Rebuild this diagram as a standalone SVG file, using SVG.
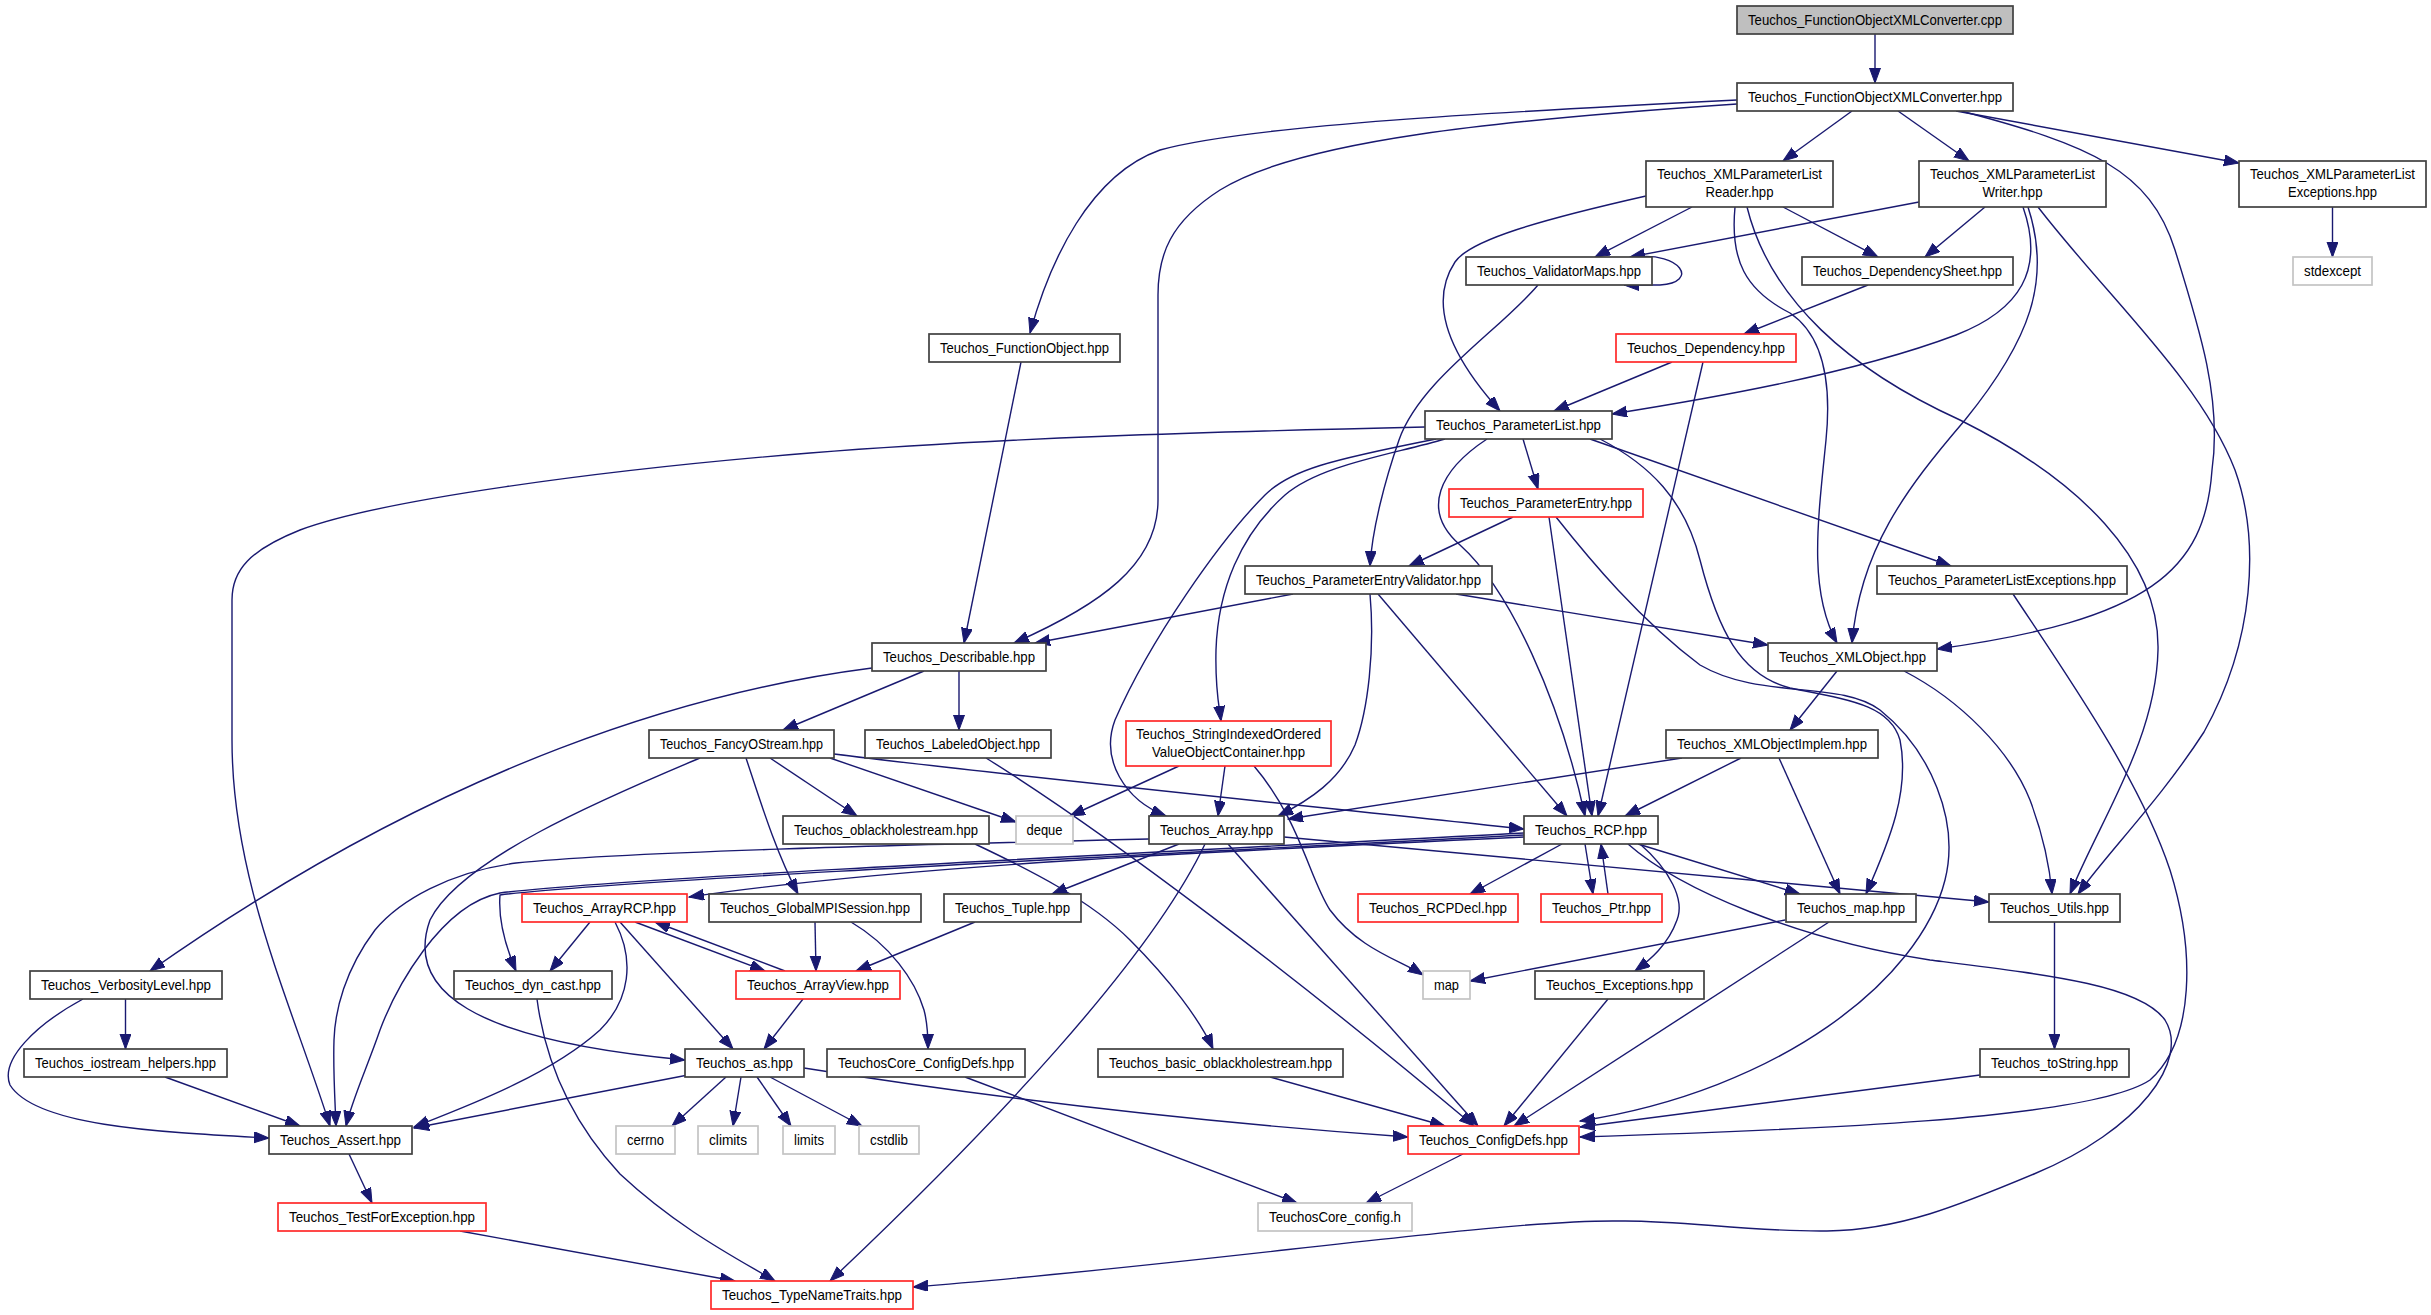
<svg xmlns="http://www.w3.org/2000/svg" width="2431" height="1315" viewBox="0 0 2431 1315">
<style>
.node rect{fill:#fff;stroke:#404040;stroke-width:1.7}
.node.red rect{stroke:#ff2a2a}
.node.gry rect{stroke:#c4c4c4}
.node.src rect{fill:#bfbfbf}
text{font-family:"Liberation Sans",Arial,sans-serif;font-size:14.5px;fill:#000;text-anchor:middle}
#edges path{fill:none;stroke:#191970;stroke-width:1.4;marker-end:url(#arr)}
</style>
<defs>
<marker id="arr" markerUnits="userSpaceOnUse" markerWidth="16" markerHeight="12" refX="15" refY="5.5" orient="auto">
<path d="M0,0 L15,5.5 L0,11 z" fill="#191970" stroke="#191970" stroke-width="1"/>
</marker>
</defs>
<rect x="0" y="0" width="2431" height="1315" fill="#fff"/>
<g id="edges">
<path d="M1875,34 L1875,83"/>
<path d="M1852,111 L1783,161"/>
<path d="M1898,111 L1969,161"/>
<path d="M1956,111 L2239,163"/>
<path d="M1961,111 C2090,145 2150,170 2175,250 C2200,330 2222,400 2212,470 C2205,570 2150,620 1937,649"/>
<path d="M1737,104 C1500,120 1300,140 1220,190 C1170,222 1158,255 1158,295 L1158,500 C1158,565 1100,605 1014,643"/>
<path d="M1737,100 C1500,112 1250,125 1160,150 C1090,175 1050,260 1030,333"/>
<path d="M1692,207 L1595,257"/>
<path d="M1783,207 L1878,257"/>
<path d="M1646,196 C1540,220 1470,240 1455,262 C1430,300 1445,350 1500,411"/>
<path d="M1735,207 C1730,260 1745,290 1790,313 C1830,340 1830,400 1826,440 C1818,520 1808,590 1837,643"/>
<path d="M1747,207 C1770,300 1850,370 1960,420 C2080,480 2160,560 2158,650 C2156,740 2100,820 2070,894"/>
<path d="M1919,202 L1630,257"/>
<path d="M1985,207 L1925,257"/>
<path d="M2023,207 C2045,270 2020,310 1956,335 C1850,375 1700,400 1612,414"/>
<path d="M2028,207 C2052,280 2030,340 1965,420 C1905,490 1860,550 1852,643"/>
<path d="M2038,207 C2110,300 2200,380 2235,470 C2260,540 2255,640 2204,732 C2160,800 2110,850 2078,894"/>
<path d="M2332.5,207 L2332.5,257"/>
<path d="M1636,257 C1680,252 1700,282 1660,285 L1624,285"/>
<path d="M1538,285 C1500,330 1420,380 1399,440 C1385,480 1372,530 1370,566"/>
<path d="M1868,285 L1744,334"/>
<path d="M1672,362 L1554,411"/>
<path d="M1703,362 L1598,816"/>
<path d="M1021,362 L964,643"/>
<path d="M1425,427 C1200,432 1000,438 810,453 C600,470 380,500 300,530 C250,550 232,570 232,600 L232,740 C232,880 290,1000 330,1126"/>
<path d="M1523,439 L1538,489"/>
<path d="M1487,439 C1440,470 1420,510 1460,545 C1510,590 1560,700 1585,816"/>
<path d="M1436,439 C1330,460 1290,470 1265,495 C1220,540 1150,640 1115,720 C1100,760 1125,800 1166,816"/>
<path d="M1445,439 C1390,455 1320,465 1285,495 C1240,535 1218,590 1216,650 C1215,690 1219,705 1221,721"/>
<path d="M1590,439 L1951,566"/>
<path d="M1600,439 C1650,465 1685,500 1700,560 C1718,630 1740,675 1790,688 C1850,700 1890,705 1900,740 C1910,790 1890,840 1866,894"/>
<path d="M1513,517 L1409,566"/>
<path d="M1549,517 L1592,816"/>
<path d="M1556,517 C1590,560 1640,620 1700,665 C1760,700 1840,680 1880,710 C1930,750 1960,820 1945,880 C1920,980 1780,1090 1580,1121"/>
<path d="M2013,594 C2070,680 2140,780 2170,870 C2195,950 2195,1040 2150,1080 C2090,1120 1800,1130 1580,1137"/>
<path d="M1293,594 L1035,643"/>
<path d="M1456,594 L1768,645"/>
<path d="M1370,594 C1375,650 1368,710 1355,745 C1340,780 1310,800 1278,816"/>
<path d="M1378,594 L1567,816"/>
<path d="M872,668 C700,690 450,760 150,971"/>
<path d="M924,671 L783,730"/>
<path d="M959,671 L959,730"/>
<path d="M700,758 C600,800 460,860 430,920 C405,990 470,1040 685,1060"/>
<path d="M746,758 C760,800 775,850 798,894"/>
<path d="M770,758 L857,816"/>
<path d="M830,758 L1016,822"/>
<path d="M834,754 C1000,775 1300,805 1524,829"/>
<path d="M986,758 C1110,835 1300,980 1474,1126"/>
<path d="M1179,766 L1070,816"/>
<path d="M1225,766 L1218,816"/>
<path d="M1254,766 C1300,820 1310,880 1330,910 C1360,950 1400,960 1423,975"/>
<path d="M1682,758 L1288,819"/>
<path d="M1741,758 L1625,816"/>
<path d="M1779,758 L1840,894"/>
<path d="M1837,671 L1790,730"/>
<path d="M1904,671 C1960,700 2010,750 2030,800 C2045,840 2050,870 2052,894"/>
<path d="M1149,839 C900,845 620,852 516,863 C450,872 400,900 375,930 C345,970 335,1010 334,1040 C333,1070 335,1100 336,1126"/>
<path d="M1179,844 L1052,894"/>
<path d="M1205,844 C1150,960 990,1130 830,1281"/>
<path d="M1228,844 L1478,1126"/>
<path d="M1284,837 L1989,902"/>
<path d="M1524,833 C1100,855 600,880 500,893 C440,905 395,990 380,1030 C368,1065 352,1100 346,1126"/>
<path d="M1524,835 C1100,857 600,882 500,895 C498,920 505,945 516,971"/>
<path d="M1524,837 C1200,852 900,866 689,897"/>
<path d="M1562,844 L1470,894"/>
<path d="M1585,844 L1593,894"/>
<path d="M1608,894 L1601,844"/>
<path d="M1638,844 L1800,894"/>
<path d="M1640,844 C1670,870 1685,900 1677,920 C1668,945 1650,960 1635,971"/>
<path d="M1628,844 C1680,890 1800,940 1930,960 C2050,975 2140,985 2165,1020 C2190,1060 2140,1130 2034,1174 C1960,1205 1900,1230 1827,1231 C1750,1232 1680,1220 1620,1221 C1500,1219 1200,1265 913,1287"/>
<path d="M590,922 L550,971"/>
<path d="M620,922 L733,1049"/>
<path d="M615,922 C635,960 630,1000 600,1030 C550,1075 470,1105 414,1127"/>
<path d="M635,922 L765,971"/>
<path d="M785,971 L655,922"/>
<path d="M815,922 L816,971"/>
<path d="M851,922 C890,945 915,980 924,1010 C928,1025 928,1040 928,1049"/>
<path d="M975,922 L856,971"/>
<path d="M803,999 L764,1049"/>
<path d="M537,999 C545,1060 570,1120 620,1174 C680,1230 740,1260 775,1281"/>
<path d="M125.5,999 L125.5,1049"/>
<path d="M83,999 C35,1025 0,1060 10,1085 C35,1125 150,1132 269,1138"/>
<path d="M165,1077 L300,1126"/>
<path d="M688,1075 L414,1128"/>
<path d="M726,1077 L672,1126"/>
<path d="M741,1077 L733,1126"/>
<path d="M757,1077 L791,1126"/>
<path d="M770,1077 L862,1126"/>
<path d="M804,1068 Q1100,1115 1408,1137"/>
<path d="M965,1077 L1297,1203"/>
<path d="M1270,1077 L1445,1126"/>
<path d="M975,844 C1030,870 1090,900 1130,940 C1170,980 1200,1020 1213,1049"/>
<path d="M1463,1154 L1366,1203"/>
<path d="M349,1154 L372,1203"/>
<path d="M460,1231 L735,1281"/>
<path d="M2054.5,922 L2054.5,1049"/>
<path d="M1980,1075 L1580,1127"/>
<path d="M1785,920 L1470,981"/>
<path d="M1829,922 L1514,1126"/>
<path d="M1608,999 L1504,1126"/>
</g>
<g id="nodes">
<g id="n_cpp" class="node src"><rect x="1737" y="6" width="276" height="28"/><text x="1875" y="25" textLength="254" lengthAdjust="spacingAndGlyphs">Teuchos_FunctionObjectXMLConverter.cpp</text></g>
<g id="n_foxc" class="node"><rect x="1737" y="83" width="276" height="28"/><text x="1875" y="102" textLength="254" lengthAdjust="spacingAndGlyphs">Teuchos_FunctionObjectXMLConverter.hpp</text></g>
<g id="n_reader" class="node"><rect x="1646" y="161" width="187" height="46"/><text x="1739.5" y="179" textLength="165" lengthAdjust="spacingAndGlyphs">Teuchos_XMLParameterList</text><text x="1739.5" y="197" textLength="68" lengthAdjust="spacingAndGlyphs">Reader.hpp</text></g>
<g id="n_writer" class="node"><rect x="1919" y="161" width="187" height="46"/><text x="2012.5" y="179" textLength="165" lengthAdjust="spacingAndGlyphs">Teuchos_XMLParameterList</text><text x="2012.5" y="197" textLength="60" lengthAdjust="spacingAndGlyphs">Writer.hpp</text></g>
<g id="n_xplexc" class="node"><rect x="2239" y="161" width="187" height="46"/><text x="2332.5" y="179" textLength="165" lengthAdjust="spacingAndGlyphs">Teuchos_XMLParameterList</text><text x="2332.5" y="197" textLength="89" lengthAdjust="spacingAndGlyphs">Exceptions.hpp</text></g>
<g id="n_stdexcept" class="node gry"><rect x="2293" y="257" width="79" height="28"/><text x="2332.5" y="276" textLength="57" lengthAdjust="spacingAndGlyphs">stdexcept</text></g>
<g id="n_depsheet" class="node"><rect x="1802" y="257" width="211" height="28"/><text x="1907.5" y="276" textLength="189" lengthAdjust="spacingAndGlyphs">Teuchos_DependencySheet.hpp</text></g>
<g id="n_valmaps" class="node"><rect x="1466" y="257" width="186" height="28"/><text x="1559" y="276" textLength="164" lengthAdjust="spacingAndGlyphs">Teuchos_ValidatorMaps.hpp</text></g>
<g id="n_dependency" class="node red"><rect x="1616" y="334" width="180" height="28"/><text x="1706" y="353" textLength="158" lengthAdjust="spacingAndGlyphs">Teuchos_Dependency.hpp</text></g>
<g id="n_funcobj" class="node"><rect x="929" y="334" width="191" height="28"/><text x="1024.5" y="353" textLength="169" lengthAdjust="spacingAndGlyphs">Teuchos_FunctionObject.hpp</text></g>
<g id="n_paramlist" class="node"><rect x="1425" y="411" width="187" height="28"/><text x="1518.5" y="430" textLength="165" lengthAdjust="spacingAndGlyphs">Teuchos_ParameterList.hpp</text></g>
<g id="n_paramentry" class="node red"><rect x="1449" y="489" width="194" height="28"/><text x="1546" y="508" textLength="172" lengthAdjust="spacingAndGlyphs">Teuchos_ParameterEntry.hpp</text></g>
<g id="n_plexc" class="node"><rect x="1877" y="566" width="250" height="28"/><text x="2002" y="585" textLength="228" lengthAdjust="spacingAndGlyphs">Teuchos_ParameterListExceptions.hpp</text></g>
<g id="n_pev" class="node"><rect x="1245" y="566" width="247" height="28"/><text x="1368.5" y="585" textLength="225" lengthAdjust="spacingAndGlyphs">Teuchos_ParameterEntryValidator.hpp</text></g>
<g id="n_describable" class="node"><rect x="872" y="643" width="174" height="28"/><text x="959" y="662" textLength="152" lengthAdjust="spacingAndGlyphs">Teuchos_Describable.hpp</text></g>
<g id="n_xmlobject" class="node"><rect x="1768" y="643" width="169" height="28"/><text x="1852.5" y="662" textLength="147" lengthAdjust="spacingAndGlyphs">Teuchos_XMLObject.hpp</text></g>
<g id="n_fancy" class="node"><rect x="649" y="730" width="185" height="28"/><text x="741.5" y="749" textLength="163" lengthAdjust="spacingAndGlyphs">Teuchos_FancyOStream.hpp</text></g>
<g id="n_labeled" class="node"><rect x="865" y="730" width="186" height="28"/><text x="958" y="749" textLength="164" lengthAdjust="spacingAndGlyphs">Teuchos_LabeledObject.hpp</text></g>
<g id="n_strindexed" class="node red"><rect x="1126" y="721" width="205" height="45"/><text x="1228.5" y="739" textLength="185" lengthAdjust="spacingAndGlyphs">Teuchos_StringIndexedOrdered</text><text x="1228.5" y="757" textLength="153" lengthAdjust="spacingAndGlyphs">ValueObjectContainer.hpp</text></g>
<g id="n_xmlimplem" class="node"><rect x="1666" y="730" width="212" height="28"/><text x="1772" y="749" textLength="190" lengthAdjust="spacingAndGlyphs">Teuchos_XMLObjectImplem.hpp</text></g>
<g id="n_oblack" class="node"><rect x="783" y="816" width="206" height="28"/><text x="886" y="835" textLength="184" lengthAdjust="spacingAndGlyphs">Teuchos_oblackholestream.hpp</text></g>
<g id="n_deque" class="node gry"><rect x="1016" y="816" width="57" height="28"/><text x="1044.5" y="835" textLength="36" lengthAdjust="spacingAndGlyphs">deque</text></g>
<g id="n_array" class="node"><rect x="1149" y="816" width="135" height="28"/><text x="1216.5" y="835" textLength="113" lengthAdjust="spacingAndGlyphs">Teuchos_Array.hpp</text></g>
<g id="n_rcp" class="node"><rect x="1524" y="816" width="134" height="28"/><text x="1591" y="835" textLength="112" lengthAdjust="spacingAndGlyphs">Teuchos_RCP.hpp</text></g>
<g id="n_arrayrcp" class="node red"><rect x="522" y="894" width="165" height="28"/><text x="604.5" y="913" textLength="143" lengthAdjust="spacingAndGlyphs">Teuchos_ArrayRCP.hpp</text></g>
<g id="n_mpisession" class="node"><rect x="709" y="894" width="212" height="28"/><text x="815" y="913" textLength="190" lengthAdjust="spacingAndGlyphs">Teuchos_GlobalMPISession.hpp</text></g>
<g id="n_tuple" class="node"><rect x="944" y="894" width="137" height="28"/><text x="1012.5" y="913" textLength="115" lengthAdjust="spacingAndGlyphs">Teuchos_Tuple.hpp</text></g>
<g id="n_rcpdecl" class="node red"><rect x="1358" y="894" width="160" height="28"/><text x="1438" y="913" textLength="138" lengthAdjust="spacingAndGlyphs">Teuchos_RCPDecl.hpp</text></g>
<g id="n_ptr" class="node red"><rect x="1541" y="894" width="121" height="28"/><text x="1601.5" y="913" textLength="99" lengthAdjust="spacingAndGlyphs">Teuchos_Ptr.hpp</text></g>
<g id="n_maphpp" class="node"><rect x="1786" y="894" width="130" height="28"/><text x="1851" y="913" textLength="108" lengthAdjust="spacingAndGlyphs">Teuchos_map.hpp</text></g>
<g id="n_utils" class="node"><rect x="1989" y="894" width="131" height="28"/><text x="2054.5" y="913" textLength="109" lengthAdjust="spacingAndGlyphs">Teuchos_Utils.hpp</text></g>
<g id="n_verbosity" class="node"><rect x="30" y="971" width="192" height="28"/><text x="126" y="990" textLength="170" lengthAdjust="spacingAndGlyphs">Teuchos_VerbosityLevel.hpp</text></g>
<g id="n_dyncast" class="node"><rect x="454" y="971" width="158" height="28"/><text x="533" y="990" textLength="136" lengthAdjust="spacingAndGlyphs">Teuchos_dyn_cast.hpp</text></g>
<g id="n_arrayview" class="node red"><rect x="736" y="971" width="164" height="28"/><text x="818" y="990" textLength="142" lengthAdjust="spacingAndGlyphs">Teuchos_ArrayView.hpp</text></g>
<g id="n_map" class="node gry"><rect x="1423" y="971" width="47" height="28"/><text x="1446.5" y="990" textLength="25" lengthAdjust="spacingAndGlyphs">map</text></g>
<g id="n_exceptions" class="node"><rect x="1535" y="971" width="169" height="28"/><text x="1619.5" y="990" textLength="147" lengthAdjust="spacingAndGlyphs">Teuchos_Exceptions.hpp</text></g>
<g id="n_iostream" class="node"><rect x="24" y="1049" width="203" height="28"/><text x="125.5" y="1068" textLength="181" lengthAdjust="spacingAndGlyphs">Teuchos_iostream_helpers.hpp</text></g>
<g id="n_as" class="node"><rect x="685" y="1049" width="119" height="28"/><text x="744.5" y="1068" textLength="97" lengthAdjust="spacingAndGlyphs">Teuchos_as.hpp</text></g>
<g id="n_tcconfigdefs" class="node"><rect x="827" y="1049" width="198" height="28"/><text x="926" y="1068" textLength="176" lengthAdjust="spacingAndGlyphs">TeuchosCore_ConfigDefs.hpp</text></g>
<g id="n_basicoblack" class="node"><rect x="1098" y="1049" width="245" height="28"/><text x="1220.5" y="1068" textLength="223" lengthAdjust="spacingAndGlyphs">Teuchos_basic_oblackholestream.hpp</text></g>
<g id="n_tostring" class="node"><rect x="1980" y="1049" width="149" height="28"/><text x="2054.5" y="1068" textLength="127" lengthAdjust="spacingAndGlyphs">Teuchos_toString.hpp</text></g>
<g id="n_assert" class="node"><rect x="269" y="1126" width="143" height="28"/><text x="340.5" y="1145" textLength="121" lengthAdjust="spacingAndGlyphs">Teuchos_Assert.hpp</text></g>
<g id="n_cerrno" class="node gry"><rect x="616" y="1126" width="59" height="28"/><text x="645.5" y="1145" textLength="37" lengthAdjust="spacingAndGlyphs">cerrno</text></g>
<g id="n_climits" class="node gry"><rect x="698" y="1126" width="60" height="28"/><text x="728" y="1145" textLength="38" lengthAdjust="spacingAndGlyphs">climits</text></g>
<g id="n_limits" class="node gry"><rect x="783" y="1126" width="52" height="28"/><text x="809" y="1145" textLength="30" lengthAdjust="spacingAndGlyphs">limits</text></g>
<g id="n_cstdlib" class="node gry"><rect x="859" y="1126" width="60" height="28"/><text x="889" y="1145" textLength="38" lengthAdjust="spacingAndGlyphs">cstdlib</text></g>
<g id="n_configdefs" class="node red"><rect x="1408" y="1126" width="171" height="28"/><text x="1493.5" y="1145" textLength="149" lengthAdjust="spacingAndGlyphs">Teuchos_ConfigDefs.hpp</text></g>
<g id="n_testforexc" class="node red"><rect x="278" y="1203" width="208" height="28"/><text x="382" y="1222" textLength="186" lengthAdjust="spacingAndGlyphs">Teuchos_TestForException.hpp</text></g>
<g id="n_config_h" class="node gry"><rect x="1258" y="1203" width="154" height="28"/><text x="1335" y="1222" textLength="132" lengthAdjust="spacingAndGlyphs">TeuchosCore_config.h</text></g>
<g id="n_typenametraits" class="node red"><rect x="711" y="1281" width="202" height="28"/><text x="812" y="1300" textLength="180" lengthAdjust="spacingAndGlyphs">Teuchos_TypeNameTraits.hpp</text></g>
</g>
</svg>
